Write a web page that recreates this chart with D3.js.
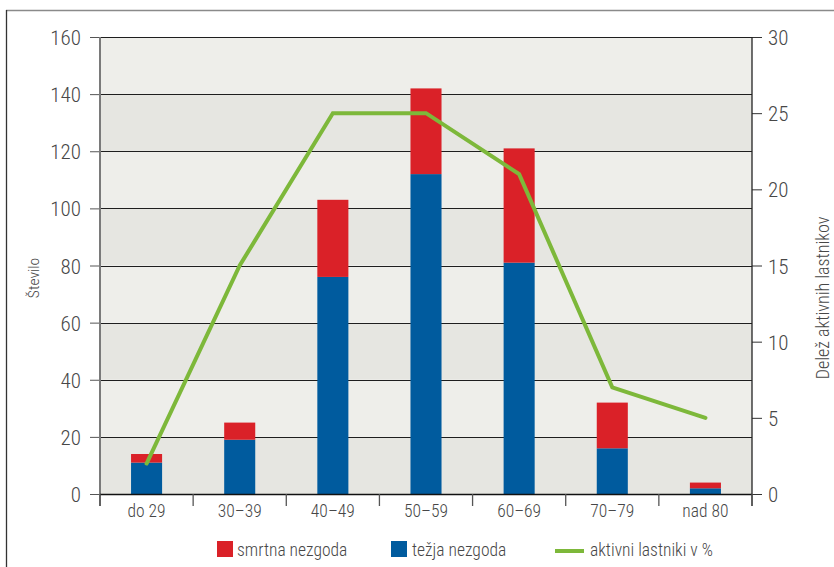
<!DOCTYPE html>
<html>
<head>
<meta charset="utf-8">
<script src="https://cdn.jsdelivr.net/npm/d3@7"></script>
<style>
  html, body { margin: 0; padding: 0; background: #fff; }
  svg { display: block; }
  text { font-family: "Roboto Condensed", "Liberation Sans Narrow", "Liberation Sans", sans-serif; font-weight: 300; fill: #474747; }
</style>
</head>
<body>
<svg id="chart" width="834" height="567"></svg>
<script>
// Age groups of owners
const categories = ["do 29", "30–39", "40–49", "50–59", "60–69", "70–79", "nad 80"];
// Serious accidents (blue) and fatal accidents (red), stacked
const tezja   = [11, 19, 76, 112, 81, 16, 2];
const smrtna  = [3, 6, 27, 30, 40, 16, 2];
// Share of active owners, %
const aktivni = [2, 15, 25, 25, 21, 7, 5];

const leftTicks  = [0, 20, 40, 60, 80, 100, 120, 140, 160];
const rightTicks = [0, 5, 10, 15, 20, 25, 30];

const svg = d3.select("#chart");
const m = { left: 100, right: 752, top: 37, bottom: 494 };

const x = d3.scaleBand().domain(categories).range([m.left, m.right]).paddingInner(0).paddingOuter(0);
const yL = d3.scaleLinear().domain([0, 160]).range([m.bottom, m.top]);
const yR = d3.scaleLinear().domain([0, 30]).range([m.bottom, m.top]);

// outer frame
svg.append("line").attr("x1", 6).attr("x2", 834).attr("y1", 10.5).attr("y2", 10.5)
  .attr("stroke", "#8a8a8a").attr("stroke-width", 1.6);
svg.append("line").attr("x1", 6.5).attr("x2", 6.5).attr("y1", 10).attr("y2", 567)
  .attr("stroke", "#333").attr("stroke-width", 1.3);

// alternating background bands
const bands = d3.range(0, 160, 20);
svg.append("g").selectAll("rect").data(bands).join("rect")
  .attr("x", m.left).attr("width", m.right - m.left)
  .attr("y", d => yL(d + 20)).attr("height", d => yL(d) - yL(d + 20))
  .attr("fill", d => ((d / 20) % 2 === 0) ? "#e6e6e1" : "#eeeeea");

// horizontal gridlines
svg.append("g").selectAll("line").data(leftTicks.filter(d => d > 0)).join("line")
  .attr("x1", m.left).attr("x2", m.right)
  .attr("y1", d => Math.round(yL(d)) + 0.5).attr("y2", d => Math.round(yL(d)) + 0.5)
  .attr("stroke", "#1e1e1e").attr("stroke-width", 1);

// stacked bars
const bw = x.bandwidth() / 3;
const bx = d => x(d) + x.bandwidth() / 2 - bw / 2;
const gBars = svg.append("g");
gBars.selectAll("rect.t").data(categories).join("rect").attr("class", "t")
  .attr("x", bx).attr("width", bw)
  .attr("y", (d, i) => yL(tezja[i])).attr("height", (d, i) => yL(0) - yL(tezja[i]))
  .attr("fill", "#005b9e");
gBars.selectAll("rect.s").data(categories).join("rect").attr("class", "s")
  .attr("x", bx).attr("width", bw)
  .attr("y", (d, i) => yL(tezja[i] + smrtna[i])).attr("height", (d, i) => yL(tezja[i]) - yL(tezja[i] + smrtna[i]))
  .attr("fill", "#da2128");

// left axis
const axL = svg.append("g").attr("transform", `translate(${m.left},0)`)
  .call(d3.axisLeft(yL).tickValues(leftTicks).tickSize(10).tickPadding(9));
axL.select(".domain").remove();
axL.selectAll(".tick line").attr("stroke", "#555");
axL.selectAll(".tick text").attr("font-size", 21).attr("fill", "#474747")
  .attr("font-family", null).attr("dy", "0.36em");
axL.append("line").attr("x1", 0).attr("x2", 0).attr("y1", m.top).attr("y2", m.bottom + 12)
  .attr("stroke", "#7a7a7a").attr("stroke-width", 2);

// right axis
const axR = svg.append("g").attr("transform", `translate(${m.right},0)`)
  .call(d3.axisRight(yR).tickValues(rightTicks).tickSize(10).tickPadding(6));
axR.select(".domain").remove();
axR.selectAll(".tick line").attr("stroke", "#333");
axR.selectAll(".tick text").attr("font-size", 21).attr("fill", "#474747")
  .attr("font-family", null).attr("dy", "0.36em");
axR.append("line").attr("x1", 0).attr("x2", 0).attr("y1", m.top).attr("y2", m.bottom + 12)
  .attr("stroke", "#222").attr("stroke-width", 1.3);

// bottom axis
svg.append("line").attr("x1", m.left).attr("x2", m.right).attr("y1", m.bottom + 0.5).attr("y2", m.bottom + 0.5)
  .attr("stroke", "#111").attr("stroke-width", 1.4);
const bounds = categories.map(c => x(c)).concat([m.right]);
svg.append("g").selectAll("line").data(bounds).join("line")
  .attr("x1", d => d).attr("x2", d => d).attr("y1", m.bottom).attr("y2", m.bottom + 12)
  .attr("stroke", "#555").attr("stroke-width", 1.3);
svg.append("g").selectAll("text").data(categories).join("text")
  .attr("x", d => x(d) + x.bandwidth() / 2).attr("y", 517)
  .attr("text-anchor", "middle").attr("font-size", 17.5).text(d => d);

// line of active owners
const line = d3.line().x((d, i) => x(categories[i]) + x.bandwidth() / 2).y(d => yR(d));
svg.append("path").datum(aktivni).attr("d", line)
  .attr("fill", "none").attr("stroke", "#7db83a").attr("stroke-width", 4)
  .attr("stroke-linejoin", "miter").attr("stroke-linecap", "round");

// axis titles
svg.append("text").attr("transform", "translate(39,278) rotate(-90)")
  .attr("text-anchor", "middle").attr("font-size", 15.5).text("Število");
svg.append("text").attr("transform", "translate(829,298) rotate(-90)")
  .attr("text-anchor", "middle").attr("font-size", 18).text("Delež aktivnih lastnikov");

// legend
const lg = svg.append("g");
lg.append("rect").attr("x", 217).attr("y", 541).attr("width", 16).attr("height", 16).attr("fill", "#da2128");
lg.append("text").attr("x", 237).attr("y", 556).attr("font-size", 17.5).text("smrtna nezgoda");
lg.append("rect").attr("x", 391).attr("y", 541).attr("width", 16).attr("height", 16).attr("fill", "#005b9e");
lg.append("text").attr("x", 412).attr("y", 556).attr("font-size", 17.5).text("težja nezgoda");
lg.append("line").attr("x1", 555).attr("x2", 584).attr("y1", 551).attr("y2", 551)
  .attr("stroke", "#7db83a").attr("stroke-width", 4);
lg.append("text").attr("x", 590).attr("y", 556).attr("font-size", 17.5).text("aktivni lastniki v %");
</script>
</body>
</html>
